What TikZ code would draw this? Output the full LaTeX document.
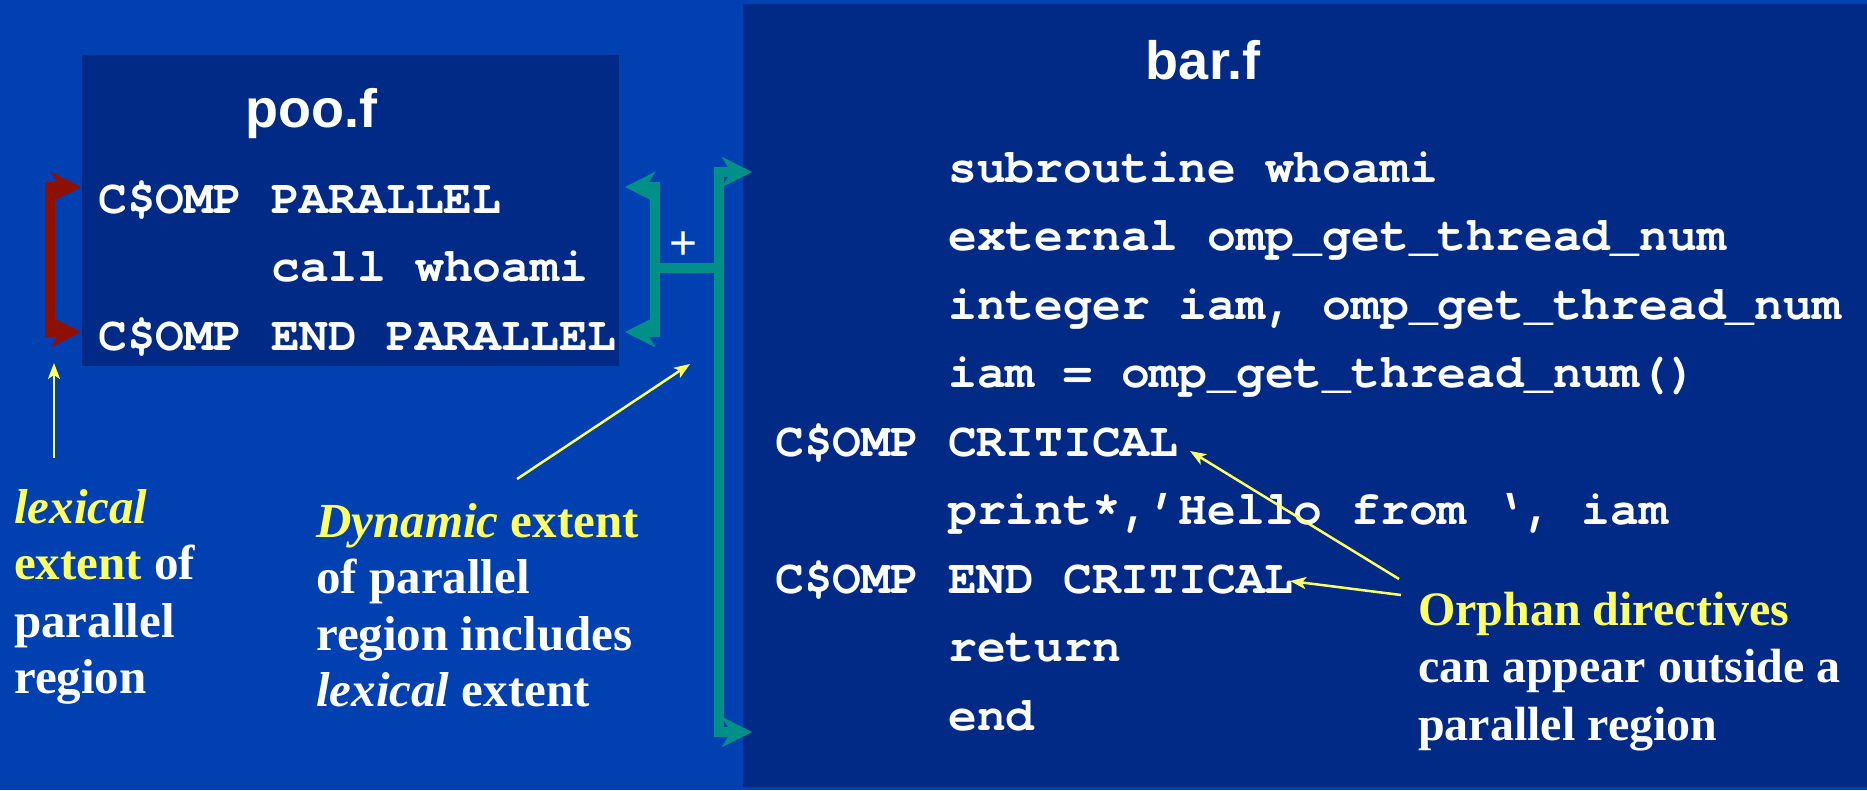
\documentclass[tikz,border=0pt]{standalone}
\usepackage{fontspec}
\setmainfont{Liberation Serif}
\setsansfont{Liberation Sans}
\setmonofont{TeX Gyre Cursor}
\usetikzlibrary{arrows.meta}
\definecolor{bgblue}{RGB}{0,64,176}
\definecolor{boxblue}{RGB}{0,42,134}
\definecolor{hlyellow}{RGB}{255,255,102}
\definecolor{brred}{RGB}{144,16,0}
\definecolor{brteal}{RGB}{0,144,136}
\begin{document}
\begin{tikzpicture}[x=1pt,y=-1pt,
  code/.style={anchor=base west, inner sep=0pt, text=white, font=\fontsize{48}{48}\selectfont\ttfamily\bfseries},
  filetitle/.style={anchor=base, inner sep=0pt, text=white, font=\fontsize{54}{54}\selectfont\sffamily\bfseries},
  note/.style={anchor=base west, inner sep=0pt, text=white, font=\fontsize{49}{56}\selectfont\rmfamily\bfseries},
  notesm/.style={note, font=\fontsize{48}{56}\selectfont\rmfamily\bfseries},
  bracket/.style={line width=10pt, line join=miter, {Stealth[length=30pt,width=30pt,inset=9pt]}-{Stealth[length=30pt,width=30pt,inset=9pt]}},
  pointer/.style={draw=hlyellow, line width=2.5pt, -{Stealth[length=16pt,width=12pt,inset=4pt]}}
]
% background and boxes
\useasboundingbox (0,0) rectangle (1867,790);
\fill[bgblue] (0,0) rectangle (1867,790);
\fill[boxblue] (82,55) rectangle (619,366);
\fill[boxblue] (743,4) rectangle (1867,787);

% titles
\node[filetitle] (pootitle) at (311,127) {poo.f};
\node[filetitle] (bartitle) at (1203,79) {bar.f};

% poo.f code
\node[code] (p1) at (98,213) {C\$OMP PARALLEL};
\node[code] (p2) at (271,281) {call whoami};
\node[code] (p3) at (98,350) {C\$OMP END PARALLEL};

% bar.f code
\node[code] (b1) at (948,182) {subroutine whoami};
\node[code] (b2) at (948,250.5) {external omp\_get\_thread\_num};
\node[code] (b3) at (948,319) {integer iam, omp\_get\_thread\_num};
\node[code] (b4) at (948,387.5) {iam = omp\_get\_thread\_num()};
\node[code] (b5) at (775,456) {C\$OMP CRITICAL};
\node[code] (b6) at (948,524.5) {print*,’Hello from ‘, iam};
\node[code] (b7) at (775,593) {C\$OMP END CRITICAL};
\node[code] (b8) at (948,661.5) {return};
\node[code] (b9) at (948,730) {end};

% brackets
\coordinate (rA) at (81,187);
\coordinate (rB) at (81,332);
\draw[bracket, brred] (rA) -- (50,187) -- (50,332) -- (rB);

\coordinate (tA) at (625,187);
\coordinate (tB) at (625,332);
\draw[bracket, brteal] (tA) -- (655,187) -- (655,332) -- (tB);

\coordinate (tC) at (752,172);
\coordinate (tD) at (752,732);
\draw[bracket, brteal] (tC) -- (719,172) -- (719,732) -- (tD);

\coordinate (hL) at (655,268);
\coordinate (hR) at (719,268);
\draw[brteal, line width=10pt] (hL) -- (hR);
\node[text=white, inner sep=0pt, font=\fontsize{48}{48}\selectfont\sffamily] (plus) at (684,246) {+};

% annotations
\node[note] (l1) at (14,523) {\textcolor{hlyellow}{\itshape lexical}};
\node[note] (l2) at (14,579) {\textcolor{hlyellow}{extent} of};
\node[note] (l3) at (14,637) {parallel};
\node[note] (l4) at (14,693) {region};

\node[note] (d1) at (316,537) {\textcolor{hlyellow}{{\itshape Dynamic} extent}};
\node[note] (d2) at (316,593) {of parallel};
\node[note] (d3) at (316,650) {region includes};
\node[note] (d4) at (316,706) {{\itshape lexical} extent};

\node[notesm] (o1) at (1418,625) {\textcolor{hlyellow}{Orphan directives}};
\node[notesm] (o2) at (1418,682) {can appear outside a};
\node[notesm] (o3) at (1418,740) {parallel region};

% pointers
\coordinate (lexS) at (54,458);
\coordinate (lexE) at (54,363);
\draw[pointer] (lexS) -- (lexE);
\coordinate (dynS) at (517,479);
\coordinate (dynE) at (690,364);
\draw[pointer] (dynS) -- (dynE);
\coordinate (orS1) at (1399,579);
\coordinate (orE1) at (1190,451);
\draw[pointer] (orS1) -- (orE1);
\coordinate (orS2) at (1401,595);
\coordinate (orE2) at (1290,581);
\draw[pointer] (orS2) -- (orE2);
\end{tikzpicture}
\end{document}
